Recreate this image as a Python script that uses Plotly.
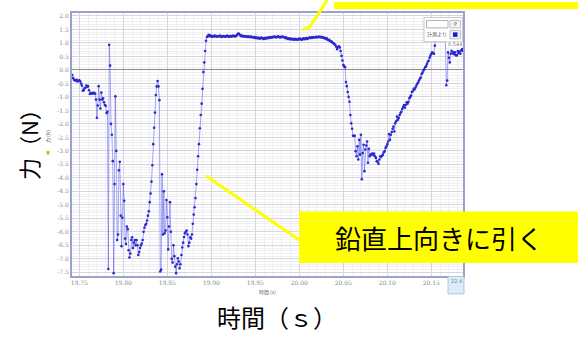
import numpy as np
import plotly.graph_objects as go

# ---------------- data (force sensor, 1 ms sampling) ----------------
T0 = 19.742
DT = 0.001

force_start = [-0.19, -0.3, -0.36, -0.38, -0.4, -0.37, -0.43, -0.4, -0.38, -0.42,
               -0.5, -0.58, -0.77, -0.75, -0.68, -0.66, -0.58, -0.62, -0.6, -0.75,
               -0.89, -0.86, -0.88, -0.85, -0.87, -0.85, -0.88, -1.1, -1.77, -1.32,
               -0.6, -1.1, -1.43, -0.84, -1.1, -1.05, -1.2, -1.3, -1.33, -1.6]
force_dip1 = [-1.55, -7.38, 0.93, 0.16, -2.0, -2.4, -3.38, -7.53, -4.23, -0.98,
              -3.0, -6.3, -6.1, -3.72, -3.4, -5.4, -6.53, -5.48, -4.23, -4.85,
              -6.25, -6.45, -5.8, -5.9, -6.68, -6.95, -6.8, -6.3, -6.2, -6.6,
              -6.4, -6.3, -6.5, -6.3, -6.5, -6.86, -6.75, -6.6, -6.5, -6.43,
              -6.3, -6.0, -5.85, -5.75, -5.7, -5.58, -5.4, -5.24, -4.9, -4.58,
              -4.14, -3.53, -2.75, -2.14, -1.58, -0.93, -0.61, -0.41, -0.61, -1.12]
force_dip2 = [-7.47, -7.4, -3.87, -6.1, -4.5, -6.05, -5.95, -4.82, -5.46, -6.65,
              -5.8, -4.9, -6.0, -7.0, -7.14, -6.5, -6.9, -7.29, -7.53, -7.2,
              -6.98, -7.1, -7.35, -7.2, -6.86, -6.58, -6.4, -6.19, -6.05, -6.0,
              -5.95, -6.1, -6.53, -6.4, -6.2, -6.25, -6.1, -5.7, -5.36, -5.09,
              -4.75, -4.23, -3.7, -3.2, -2.75, -2.16, -1.67, -1.25, -0.7, -0.08,
              0.28, 0.7, 1.08, 1.22, 1.26, 1.3]
force_plateau = [1.24, 1.28, 1.25, 1.23, 1.26, 1.24, 1.27, 1.25, 1.23, 1.26,
                 1.24, 1.25, 1.27, 1.24, 1.22, 1.25, 1.26, 1.24, 1.23, 1.25,
                 1.27, 1.24, 1.25, 1.23, 1.26, 1.24, 1.25, 1.27, 1.25, 1.24,
                 1.26, 1.29, 1.33, 1.35, 1.32, 1.28, 1.25, 1.27, 1.24, 1.26,
                 1.23, 1.25, 1.24, 1.22, 1.25, 1.23, 1.21, 1.24, 1.22, 1.2,
                 1.22, 1.19, 1.21, 1.18, 1.2, 1.17, 1.19, 1.16, 1.18, 1.2,
                 1.17, 1.15, 1.18, 1.16, 1.19, 1.17, 1.2, 1.18, 1.21, 1.19,
                 1.22, 1.2, 1.23, 1.21, 1.24, 1.22, 1.2, 1.23, 1.25, 1.22,
                 1.2, 1.23, 1.21, 1.24, 1.22, 1.2, 1.18, 1.21, 1.17, 1.15,
                 1.17, 1.14, 1.16, 1.13, 1.15, 1.14, 1.12, 1.15, 1.13, 1.14,
                 1.12, 1.15, 1.13, 1.16, 1.14, 1.12, 1.15, 1.17, 1.14, 1.16,
                 1.18, 1.15, 1.17, 1.19, 1.2, 1.18, 1.21, 1.19, 1.22, 1.2,
                 1.21, 1.23, 1.2, 1.22, 1.24, 1.21, 1.23, 1.2, 1.22, 1.19,
                 1.2, 1.17, 1.15, 1.18, 1.13, 1.1, 1.12, 1.07, 1.05]
force_release = [1.04, 1.0, 0.99, 0.95, 0.92, 0.86, 0.77, 0.85, 0.88, 0.83,
                 0.7, 0.52, 0.35, 0.18, 0.14, 0.1, -0.45, -0.6, -0.82, -1.0,
                 -1.18, -1.67, -1.98, -2.18, -2.44, -2.44, -2.44, -3.01, -3.2, -2.83,
                 -3.32, -2.59, -3.14, -2.4, -4.05, -3.08, -2.77, -3.75, -2.95, -2.8,
                 -2.65, -3.44, -2.92, -3.2, -3.14, -3.12, -3.1, -3.15, -3.1, -3.2,
                 -3.26, -3.38, -3.4, -3.48, -3.32, -3.2, -3.22, -3.18, -3.14, -3.05,
                 -3.01, -2.89, -2.83, -2.75, -2.65, -2.38, -2.59, -2.4, -2.3, -2.18,
                 -2.1, -2.28, -1.98, -1.9, -1.73, -1.85, -1.78, -1.67, -1.6, -1.55,
                 -1.45, -1.37, -1.3, -1.4, -1.3, -1.2, -1.25, -1.18, -1.05, -1.0,
                 -0.95, -0.82, -0.78, -0.7, -0.72, -0.65, -0.58, -0.51, -0.47, -0.39,
                 -0.33, -0.28, -0.15, -0.1, -0.02, 0.02, 0.1, 0.14, 0.22, 0.3,
                 0.34, 0.45, 0.53, 0.6, 0.65, 0.62, 0.6, 0.9, 1.26, 1.45,
                 1.6, 1.7, 1.65, 1.75, 1.6, 1.7, 1.55, 1.5, 1.2, 1.1,
                 -0.57, -0.39, 0.65, 0.45, 0.28, 0.6, 0.71, 0.62, 0.66, 0.58,
                 0.65, 0.54, 0.54, 0.7, 0.62, 0.68, 0.6, 0.72, 0.77, 0.7]

force = force_start + force_dip1 + force_dip2 + force_plateau + force_release
time = np.round(T0 + DT * np.arange(len(force)), 4)

x_ticks = [19.75, 19.80, 19.85, 19.90, 19.95, 20.00, 20.05, 20.10, 20.15]
x_tick_labels = ["19.75", "19.80", "19.85", "19.90", "19.95", "20.00", "20.05", "20.10", "20.15"]
y_ticks = [2.0, 1.5, 1.0, 0.5, 0.0, -0.5, -1.0, -1.5, -2.0, -2.5, -3.0, -3.5, -4.0,
           -4.5, -5.0, -5.5, -6.0, -6.5, -7.0, -7.5]
y_tick_labels = ["%.1f" % v for v in y_ticks]

# ---------------- layout helpers ----------------
W, H = 578, 338
L, R, T, B = 72, 115, 11, 62
PW, PH = W - L - R, H - T - B


def px(x):
    return (x - L) / PW


def py(y):
    return 1 - (y - T) / PH


JP = "Noto Sans CJK JP"
YELLOW = "#ffff00"

fig = go.Figure()
fig.add_trace(go.Scatter(
    x=time, y=force, mode="lines+markers",
    line=dict(color="rgba(80,80,235,0.5)", width=1),
    marker=dict(color="#2a2acc", size=2.6),
    showlegend=False, hoverinfo="skip",
))

shapes = []
annotations = []


def note(text, x, y, size, color="black", family=JP, angle=0):
    annotations.append(dict(text=text, xref="paper", yref="paper", x=px(x), y=py(y),
                            xanchor="center", yanchor="middle", textangle=angle,
                            showarrow=False, font=dict(size=size, color=color, family=family)))


def box(x0, y0, x1, y1, fill, line_color=None, lw=1):
    shapes.append(dict(type="rect", xref="paper", yref="paper",
                       x0=px(x0), x1=px(x1), y0=py(y1), y1=py(y0), fillcolor=fill,
                       line=dict(color=line_color or fill, width=lw if line_color else 0)))


# widget box (top right, inside plot)
box(424, 15.5, 462.5, 40, "white", "#c8c8c8")
box(426.5, 18.5, 448, 26, "white", "#b0b0b0")
box(450, 18.5, 460.5, 26, "#f4f4f4", "#c0c0c0")
box(450, 28.5, 460.5, 37, "#eef0f8", "#c0c0c0")
box(453, 30.5, 457.5, 35, "#1a1ad0")
box(446.5, 40, 462.5, 44.5, "white")
note("P", 455.3, 22.3, 5, "#555", "DejaVu Sans")
note("計測より", 437, 32.5, 5, "#555")
note("0.544", 454.5, 42.2, 5, "#777", "DejaVu Sans")

# bottom right tab
box(448, 276.5, 464, 294, "#dcecf8", "#a9c9e2")
note("22.4", 456, 281.5, 5, "#888", "DejaVu Sans")

# tiny original axis titles
note("時間 (s)", 267, 292.5, 5, "#666")
note("力 (N)", 48, 136, 5, "#666", angle=-90)
box(46.5, 150, 49.5, 153.5, "#d8b020")

# yellow callouts
box(334, 0, 578, 7, YELLOW)
shapes.append(dict(type="path", xref="paper", yref="paper",
                   path="M %f %f L %f %f L %f %f" % (px(327), py(-2), px(310), py(25), px(302.5), py(28)),
                   line=dict(color=YELLOW, width=3)))
box(299, 211, 578, 263, YELLOW)
shapes.append(dict(type="line", xref="paper", yref="paper",
                   x0=px(206), y0=py(175), x1=px(299.5), y1=py(240),
                   line=dict(color=YELLOW, width=3)))
note("鉛直上向きに引く", 439, 237, 26)

# big axis titles
note("力（N）", 28, 138, 22, angle=-90)
note("時間（ｓ）", 277, 317, 24)

fig.update_layout(
    width=W, height=H, autosize=False,
    margin=dict(l=L, r=R, t=T, b=B, pad=0),
    paper_bgcolor="white", plot_bgcolor="white",
    shapes=shapes, annotations=annotations,
    xaxis=dict(range=[19.7417, 20.186], tickvals=x_ticks, ticktext=x_tick_labels,
               showgrid=True, gridcolor="#d6d6de", gridwidth=1,
               minor=dict(dtick=0.01, tick0=19.75, showgrid=True, gridcolor="#efeff2"),
               showline=True, linecolor="#9aa2cc", linewidth=2, mirror=True,
               ticks="", zeroline=False,
               tickfont=dict(size=6, color="#888", family="DejaVu Serif")),
    yaxis=dict(range=[-7.636, 2.11], tickvals=y_ticks, ticktext=y_tick_labels,
               showgrid=True, gridcolor="#d6d6de", gridwidth=1,
               minor=dict(dtick=0.1, tick0=0, showgrid=True, gridcolor="#f0f0f3"),
               showline=True, linecolor="#9aa2cc", linewidth=2, mirror=True,
               ticks="", zeroline=True, zerolinecolor="#8a8a8a", zerolinewidth=1,
               tickfont=dict(size=6, color="#888", family="DejaVu Serif")),
)

fig.write_html("out.html", config={"displayModeBar": False},
               post_script="document.body.style.margin='0';document.body.style.overflow='hidden';")
